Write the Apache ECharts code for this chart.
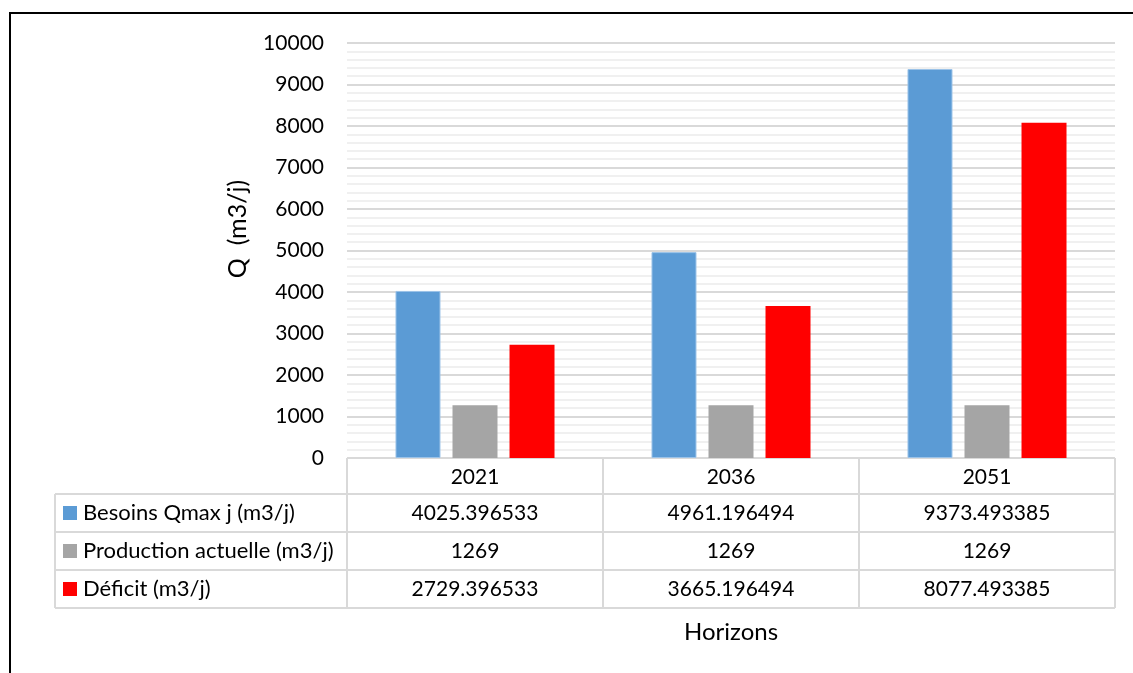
<!DOCTYPE html>
<html>
<head>
<meta charset="utf-8">
<script src="https://cdn.jsdelivr.net/npm/echarts@6/dist/echarts.min.js"></script>
<style>
  html, body { margin: 0; padding: 0; background: #fff; }
  #main { width: 1133px; height: 673px; }
</style>
</head>
<body>
<div id="main"></div>
<script>
var categories = ["2021", "2036", "2051"];
var seriesNames = ["Besoins Qmax j (m3/j)", "Production actuelle (m3/j)", "Déficit (m3/j)"];
var besoins = [4025.396533, 4961.196494, 9373.493385];
var production = [1269, 1269, 1269];
var deficit = [2729.396533, 3665.196494, 8077.493385];
var colors = ["#5B9BD5", "#A5A5A5", "#FF0000"];

var font = "Lato";
var gridLeft = 347, gridRight = 18, gridTop = 43, gridBottom = 215;
var W = 1133, H = 673;
var plotW = W - gridLeft - gridRight;
var cellW = plotW / categories.length;
var tableTop = H - gridBottom;
var rowY = [tableTop, 494, 532, 570, 608];
var legendLeft = 55;
var lineColor = "#d9d9d9";

var allData = [besoins, production, deficit];

// table drawn as graphics, text taken from the arrays
var graphics = [];
// frame
graphics.push({ type: "line", shape: { x1: 9, y1: 13, x2: W, y2: 13 }, style: { stroke: "#000", lineWidth: 2 } });
graphics.push({ type: "line", shape: { x1: 10, y1: 12, x2: 10, y2: H }, style: { stroke: "#000", lineWidth: 2 } });

// horizontal lines
graphics.push({ type: "line", shape: { x1: gridLeft, y1: rowY[0], x2: gridLeft + plotW, y2: rowY[0] }, style: { stroke: lineColor, lineWidth: 2 } });
for (var r = 1; r < rowY.length; r++) {
  graphics.push({ type: "line", shape: { x1: legendLeft, y1: rowY[r], x2: gridLeft + plotW, y2: rowY[r] }, style: { stroke: lineColor, lineWidth: 2 } });
}
// vertical lines
graphics.push({ type: "line", shape: { x1: legendLeft, y1: rowY[1], x2: legendLeft, y2: rowY[4] }, style: { stroke: lineColor, lineWidth: 2 } });
for (var c = 0; c <= categories.length; c++) {
  var x = gridLeft + c * cellW;
  graphics.push({ type: "line", shape: { x1: x, y1: rowY[0], x2: x, y2: rowY[4] }, style: { stroke: lineColor, lineWidth: 2 } });
}
// rows
for (var s = 0; s < seriesNames.length; s++) {
  var cy = (rowY[s + 1] + rowY[s + 2]) / 2;
  graphics.push({ type: "rect", shape: { x: 63, y: cy - 7, width: 14, height: 14 }, style: { fill: colors[s] } });
  graphics.push({ type: "text", x: 83, y: cy, style: { text: seriesNames[s], font: "22px " + font, fill: "#000", textVerticalAlign: "middle", textAlign: "left" } });
  for (var c = 0; c < categories.length; c++) {
    graphics.push({ type: "text", x: gridLeft + (c + 0.5) * cellW, y: cy, style: { text: String(allData[s][c]), font: "21px " + font, fill: "#000", textVerticalAlign: "middle", textAlign: "center" } });
  }
}
// axis titles
graphics.push({ type: "text", x: gridLeft + plotW / 2, y: 632, style: { text: "Horizons", font: "24px " + font, fill: "#000", textAlign: "center", textVerticalAlign: "middle" } });
graphics.push({ type: "text", x: 238, y: 229, rotation: Math.PI / 2, style: { text: "Q  (m3/j)", font: "25px " + font, fill: "#000", textAlign: "center", textVerticalAlign: "middle" } });

var myChart = echarts.init(document.getElementById("main"));
myChart.setOption({
  animation: false,
  backgroundColor: "#fff",
  grid: { left: gridLeft, right: gridRight, top: gridTop, bottom: gridBottom, containLabel: false },
  xAxis: {
    type: "category",
    data: categories,
    axisLine: { show: false },
    axisTick: { show: false },
    axisLabel: { margin: 7, fontSize: 21, fontFamily: font, color: "#000", lineHeight: 24 }
  },
  yAxis: {
    type: "value",
    min: 0,
    max: 10000,
    interval: 1000,
    axisLine: { show: false },
    axisTick: { show: false },
    axisLabel: {
      margin: 23, fontSize: 21, fontFamily: font, color: "#000",
      formatter: function (v) { return String(v); }
    },
    splitLine: { lineStyle: { color: "#d9d9d9", width: 2 } },
    minorTick: { show: false, splitNumber: 5 },
    minorSplitLine: { show: true, lineStyle: { color: "#f0f0f0", width: 2 } }
  },
  series: [
    {
      name: seriesNames[0], type: "bar", data: besoins, barWidth: 45, barGap: "26.7%",
      itemStyle: { color: colors[0], borderColor: "#9cc3e8", borderWidth: 1 }
    },
    {
      name: seriesNames[1], type: "bar", data: production, barWidth: 45, barGap: "26.7%",
      itemStyle: { color: colors[1] }
    },
    {
      name: seriesNames[2], type: "bar", data: deficit, barWidth: 45, barGap: "26.7%",
      itemStyle: { color: colors[2] }
    }
  ],
  graphic: graphics
});
</script>
</body>
</html>
